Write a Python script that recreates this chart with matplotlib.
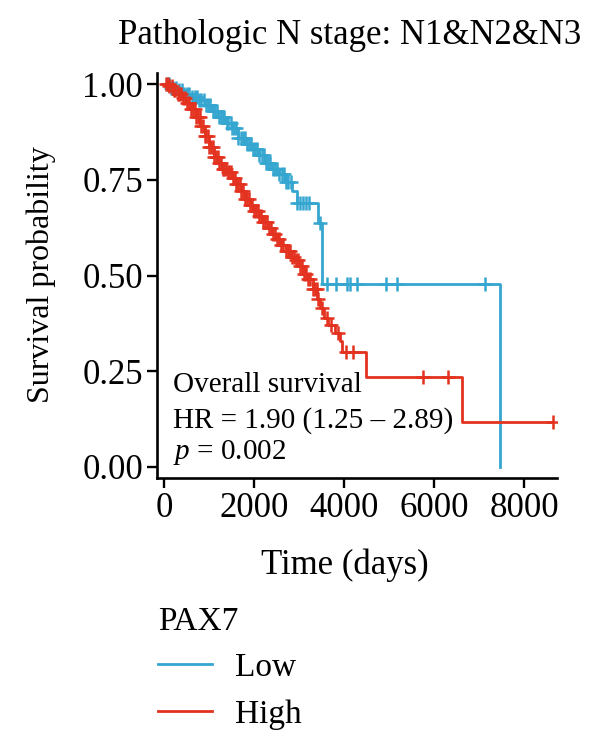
import numpy as np
import matplotlib.pyplot as plt
from matplotlib.lines import Line2D

plt.rcParams['font.family'] = ['Liberation Serif', 'DejaVu Serif']
plt.rcParams['mathtext.fontset'] = 'custom'
plt.rcParams['mathtext.it'] = 'Liberation Serif:italic'
plt.rcParams['mathtext.rm'] = 'Liberation Serif'

# Kaplan-Meier steps (time in days, survival after the step)
low_time = [0, 150, 300, 450, 600, 750, 900, 1050, 1200, 1350, 1500, 1650, 1800,
            1950, 2100, 2250, 2400, 2550, 2700, 2850, 2950, 3430, 3500, 7470]
low_surv = [1.0, 0.99, 0.985, 0.975, 0.968, 0.96, 0.945, 0.93, 0.915, 0.90, 0.885,
            0.86, 0.845, 0.83, 0.815, 0.795, 0.78, 0.765, 0.745, 0.72, 0.69, 0.637,
            0.478, 0.0]
low_end = 7470
low_censor = [60, 100, 150, 200, 260, 330, 390, 450, 500, 560, 620, 680, 730, 780,
              830, 880, 930, 980, 1030, 1080, 1130, 1180, 1220, 1260, 1300, 1340,
              1390, 1430, 1480, 1520, 1560, 1600, 1650, 1700, 1750, 1790, 1840, 1880,
              1930, 1980, 2020, 2070, 2120, 2170, 2220, 2270, 2310, 2360, 2410, 2460,
              2510, 2560, 2610, 2660, 2710, 2760, 2810, 2960, 3020, 3080, 3150, 3220,
              3460, 3620, 3820, 4070, 4130, 4290, 4930, 5180, 7130]

high_time = [0, 100, 200, 300, 400, 500, 600, 700, 800, 900, 1000, 1100, 1200, 1300,
             1400, 1500, 1600, 1700, 1800, 1900, 2000, 2100, 2200, 2300, 2400, 2500,
             2600, 2700, 2800, 2900, 3000, 3100, 3200, 3300, 3400, 3470, 3550, 3650,
             3800, 3900, 3950, 4480, 6620]
high_surv = [1.0, 0.995, 0.985, 0.975, 0.965, 0.95, 0.935, 0.915, 0.89, 0.865, 0.835,
             0.81, 0.795, 0.78, 0.77, 0.755, 0.74, 0.72, 0.70, 0.685, 0.67, 0.655,
             0.64, 0.625, 0.61, 0.595, 0.58, 0.565, 0.55, 0.54, 0.525, 0.505, 0.49,
             0.465, 0.44, 0.415, 0.39, 0.37, 0.35, 0.33, 0.30, 0.235, 0.118]
high_end = 8650
high_censor = [40, 80, 120, 170, 220, 250, 300, 340, 380, 430, 470, 520, 560, 600,
               640, 680, 720, 760, 790, 830, 860, 900, 930, 970, 1010, 1050, 1080,
               1120, 1150, 1190, 1230, 1270, 1300, 1340, 1380, 1420, 1450, 1490, 1530,
               1570, 1610, 1650, 1680, 1720, 1760, 1800, 1840, 1880, 1920, 1960, 2000,
               2040, 2080, 2120, 2160, 2200, 2240, 2290, 2330, 2380, 2420, 2470, 2510,
               2560, 2600, 2650, 2700, 2750, 2790, 2840, 2880, 2930, 2970, 3020, 3060,
               3110, 3150, 3200, 3250, 3300, 3350, 3390, 3430, 3520, 3620, 3720, 3870,
               4050, 4200, 5760, 6310, 8650]

groups = ['Low', 'High']
colors = ['#35A6D0', '#E3321F']

fig = plt.figure(figsize=(6, 7.55), dpi=100)
ax = fig.add_axes([0.2617, 0.367, 0.667, 0.536])

curves = [(low_time, low_surv, low_end, low_censor),
          (high_time, high_surv, high_end, high_censor)]
for (t, s, end, cens), col in zip(curves, colors):
    t = np.array(t, dtype=float)
    s = np.array(s)
    tt = np.append(t, end)
    ss = np.append(s, s[-1])
    ax.step(tt, ss, where='post', color=col, lw=2.0)
    cens = np.array(cens, dtype=float)
    cs = s[np.searchsorted(t, cens, side='right') - 1]
    ax.plot(cens, cs, ls='none', marker='+', color=col, ms=10, mew=1.8)

ax.set_xlim(-155, 8733)
ax.set_ylim(-0.0287, 1.029)
ax.set_xticks([0, 2000, 4000, 6000, 8000])
ax.set_yticks([0, 0.25, 0.5, 0.75, 1.0])
ax.set_yticklabels(['0.00', '0.25', '0.50', '0.75', '1.00'])
for sp in ['top', 'right']:
    ax.spines[sp].set_visible(False)
for sp in ['left', 'bottom']:
    ax.spines[sp].set_linewidth(1.9)
ax.tick_params(labelsize=25, width=1.7, length=7, color='black', pad=3)

ax.text(0.04, 0.23, 'Overall survival', transform=ax.transAxes, fontsize=21,
        va='center')
ax.text(0.04, 0.143, 'HR = 1.90 (1.25 \u2013 2.89)', transform=ax.transAxes,
        fontsize=21, va='center')
ax.text(0.04, 0.064, '$p$ = 0.002', transform=ax.transAxes, fontsize=21,
        va='center')

fig.text(0.583, 0.953, 'Pathologic N stage: N1&N2&N3', fontsize=25,
         ha='center', va='center')
fig.text(0.575, 1 - 565 / 755, 'Time (days)', fontsize=25, ha='center', va='center')
fig.text(0.068, 1 - 275 / 755, 'Survival probability', fontsize=23, rotation=90,
         ha='center', va='center')

handles = [Line2D([], [], color=c, lw=2.0) for c in colors]
fig.legend(handles, groups, title='PAX7', loc='upper left',
           bbox_to_anchor=(0.2137, 1 - 576 / 755), frameon=False, fontsize=24,
           title_fontsize=24, alignment='left', handlelength=1.6,
           handletextpad=0.7, labelspacing=0.48)

plt.savefig('out.png', dpi=100)
